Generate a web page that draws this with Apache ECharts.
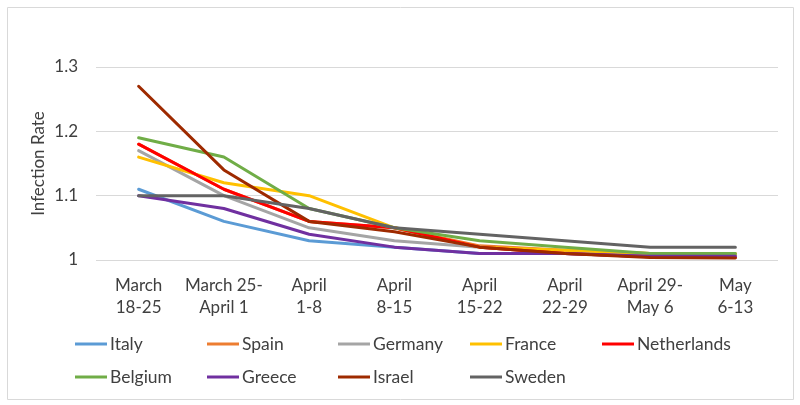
<!DOCTYPE html>
<html>
<head>
<meta charset="utf-8">
<script src="https://cdn.jsdelivr.net/npm/echarts@6/dist/echarts.min.js"></script>
<style>html,body{margin:0;padding:0;background:#fff}#c{width:800px;height:405px}</style>
</head>
<body>
<div id="c"></div>
<script>
const categories = ['March\n18-25', 'March 25-\nApril 1', 'April\n1-8', 'April\n8-15', 'April\n15-22', 'April\n22-29', 'April 29-\nMay 6', 'May\n6-13'];
const italy       = [1.11, 1.06, 1.03, 1.02, 1.01, 1.01, 1.005, 1.005];
const spain       = [1.18, 1.11, 1.06, 1.05, 1.022, 1.015, 1.01, 1.008];
const germany     = [1.17, 1.10, 1.05, 1.03, 1.02, 1.01, 1.008, 1.008];
const france      = [1.16, 1.12, 1.10, 1.05, 1.02, 1.015, 1.01, 1.01];
const netherlands = [1.18, 1.11, 1.06, 1.05, 1.02, 1.01, 1.005, 1.004];
const belgium     = [1.19, 1.16, 1.08, 1.05, 1.03, 1.02, 1.01, 1.01];
const greece      = [1.10, 1.08, 1.04, 1.02, 1.01, 1.01, 1.006, 1.006];
const israel      = [1.27, 1.14, 1.06, 1.044, 1.02, 1.01, 1.004, 1.003];
const sweden      = [1.10, 1.10, 1.08, 1.05, 1.04, 1.03, 1.02, 1.02];
const yTicks = [1, 1.1, 1.2, 1.3];

const seriesDefs = [
  ['Italy', italy, '#5B9BD5'],
  ['Spain', spain, '#ED7D31'],
  ['Germany', germany, '#A5A5A5'],
  ['France', france, '#FFC000'],
  ['Netherlands', netherlands, '#FF0000'],
  ['Belgium', belgium, '#70AD47'],
  ['Greece', greece, '#7030A0'],
  ['Israel', israel, '#9E2A00'],
  ['Sweden', sweden, '#636363']
];
const FONT = 'Lato';
const TXT = '#404040';
const legendPos = [
  [75, 344], [207, 344], [338, 344], [470, 344], [602, 344],
  [75, 377], [207, 377], [338, 377], [470, 377]
];
const chart = echarts.init(document.getElementById('c'), null, {renderer: 'canvas'});
chart.setOption({
  animation: false,
  color: seriesDefs.map(s => s[2]),
  graphic: [{
    type: 'rect', shape: {x: 7.5, y: 7.5, width: 786, height: 392},
    style: {fill: 'none', stroke: '#D9D9D9', lineWidth: 1}, silent: true, z: -1
  }],
  grid: {left: 96, right: 22, top: 67, bottom: 145},
  legend: seriesDefs.map((s, i) => ({
    data: [s[0]], left: legendPos[i][0], top: legendPos[i][1] - 9, height: 20,
    icon: 'rect', itemWidth: 32, itemHeight: 3, itemGap: 0, padding: 0,
    textStyle: {fontFamily: FONT, fontSize: 17.5, color: TXT, padding: [0, 0, 0, -2]}
  })),
  xAxis: {
    type: 'category', data: categories, boundaryGap: true,
    axisLine: {show: false}, axisTick: {show: false},
    axisLabel: {fontFamily: FONT, fontSize: 17, color: TXT, lineHeight: 22, margin: 15, interval: 0}
  },
  yAxis: {
    type: 'value', min: yTicks[0], max: yTicks[yTicks.length - 1], interval: 0.1,
    name: 'Infection Rate', nameLocation: 'middle', nameGap: 49, nameRotate: 90,
    nameMoveOverlap: false,
    nameTextStyle: {fontFamily: FONT, fontSize: 17, color: TXT},
    axisLine: {show: false}, axisTick: {show: false},
    axisLabel: {fontFamily: FONT, fontSize: 17, color: TXT, margin: 18,
      formatter: v => String(Math.round(v * 10) / 10)},
    splitLine: {lineStyle: {color: '#D9D9D9', width: 1}}
  },
  series: seriesDefs.map(s => ({
    name: s[0], type: 'line', data: s[1], showSymbol: false, symbol: 'none',
    lineStyle: {width: 3, color: s[2], cap: 'round', join: 'round'},
    itemStyle: {color: s[2]}
  }))
});
</script>
</body>
</html>
